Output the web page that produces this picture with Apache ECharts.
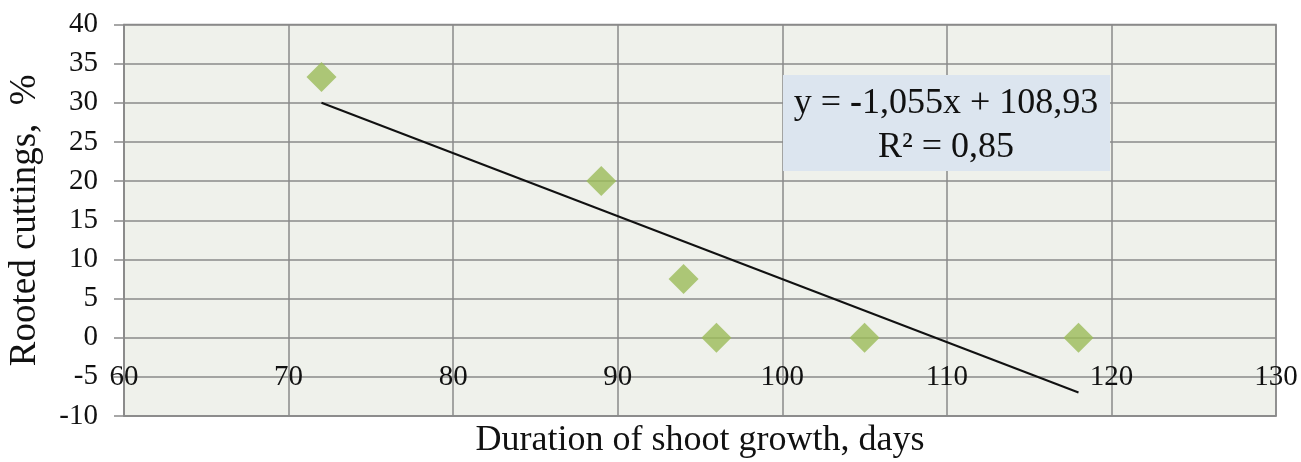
<!DOCTYPE html>
<html><head><meta charset="utf-8">
<script src="https://cdn.jsdelivr.net/npm/echarts@6/dist/echarts.min.js"></script>
<style>html,body{margin:0;padding:0;background:#fff}#c{width:1301px;height:462px}</style>
</head><body><div id="c"></div>
<script>
const days = [72, 89, 94, 96, 105, 118];
const rooted = [33.3, 20, 7.5, 0, 0, 0];
const trendX = [72, 118];
const trendY = [30, -7];
const xTicks = [60, 70, 80, 90, 100, 110, 120, 130];
const yTicks = [-10, -5, 0, 5, 10, 15, 20, 25, 30, 35, 40];
const eqLine1 = ['y = ', '-', '1,055x + 108,93'];
const eqLine2 = 'R² = 0,85';

const font = 'Liberation Serif';
const grid = '#8a8a8a';
const chart = echarts.init(document.getElementById('c'));
chart.setOption({
  animation: false,
  grid: {left: 124, right: 25, top: 24.5, bottom: 46, containLabel: false, outerBoundsMode: 'none',
         show: true, backgroundColor: '#eff1eb', borderColor: grid, borderWidth: 1.5},
  xAxis: {
    type: 'value', min: xTicks[0], max: xTicks[xTicks.length - 1], interval: 10,
    name: 'Duration of shoot growth, days', nameLocation: 'middle', nameGap: 7,
    nameTextStyle: {fontFamily: font, fontSize: 36, color: '#111', verticalAlign: 'top'},
    axisLine: {show: true, onZero: false, lineStyle: {color: grid, width: 1.5}},
    axisTick: {show: false},
    axisLabel: {fontFamily: font, fontSize: 29, color: '#111', margin: -39, verticalAlign: 'middle'},
    splitLine: {show: true, lineStyle: {color: grid, width: 1.5}}
  },
  yAxis: {
    type: 'value', min: yTicks[0], max: yTicks[yTicks.length - 1], interval: 5,
    name: 'Rooted cuttings,  %', nameLocation: 'middle', nameGap: 80, nameRotate: 90,
    nameTextStyle: {fontFamily: font, fontSize: 37, color: '#111'},
    axisLine: {show: true, lineStyle: {color: grid, width: 1.5}},
    axisTick: {show: true, length: 10, lineStyle: {color: grid, width: 1.5}},
    axisLabel: {fontFamily: font, fontSize: 29, color: '#111', margin: 26},
    splitLine: {show: true, lineStyle: {color: grid, width: 1.5}}
  },
  graphic: [
    {type: 'rect', shape: {x: 783, y: 75, width: 327, height: 96}, style: {fill: '#dce5ef'}, z: 10},
    {type: 'text', x: 946, y: 104, z: 11, style: {
      text: '{a|' + eqLine1[0] + '}{b|' + eqLine1[1] + '}{a|' + eqLine1[2] + '}',
      align: 'center', verticalAlign: 'middle',
      rich: {a: {fontFamily: font, fontSize: 36, fill: '#111'}, b: {fontFamily: font, fontSize: 36, fontWeight: 'bold', fill: '#111'}}
    }},
    {type: 'text', x: 946, y: 148, z: 11, style: {text: eqLine2, align: 'center', verticalAlign: 'middle', fontFamily: font, fontSize: 36, fill: '#111'}}
  ],
  series: [
    {type: 'scatter', data: days.map((d, i) => [d, rooted[i]]), symbol: 'diamond', symbolSize: 30, itemStyle: {color: '#9bbb59'}, z: 3},
    {type: 'line', data: trendX.map((d, i) => [d, trendY[i]]), symbol: 'none', lineStyle: {color: '#111', width: 2}, z: 4}
  ]
});
</script></body></html>
